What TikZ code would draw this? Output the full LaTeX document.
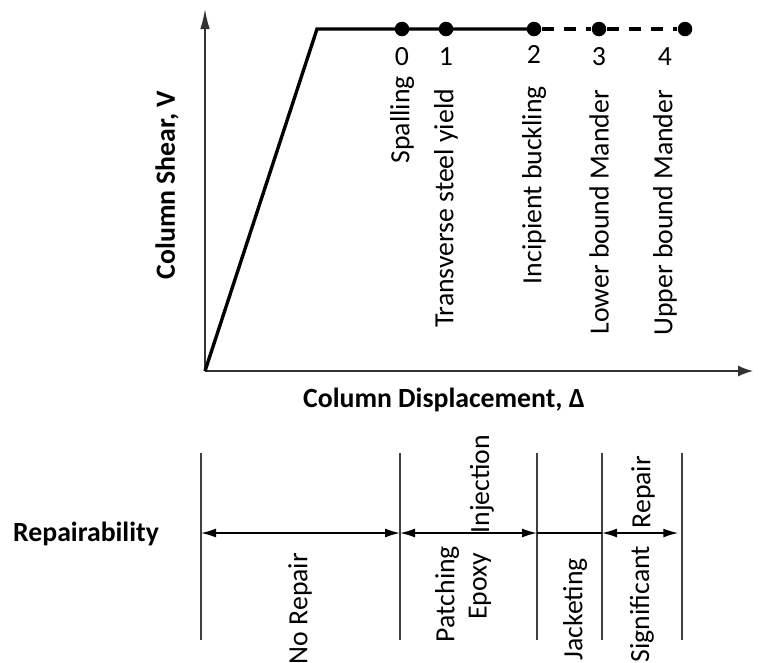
\documentclass[tikz,border=0pt]{standalone}
\usepackage{fontspec}
\setmainfont{Carlito}
\usetikzlibrary{arrows.meta}

\begin{document}
\begin{tikzpicture}[x=0.4pt,y=-0.4pt,
    font=\fontsize{11.1}{13}\selectfont,
    dot/.style={circle,fill,inner sep=0pt,minimum size=5.8pt},
    level/.style={rotate=90,anchor=east,inner sep=1pt},
    axis label/.style={font=\fontsize{11.1}{13}\selectfont\bfseries},
    axis/.style={black!80,line width=0.6pt},
    backbone/.style={line width=1.35pt,line join=miter},
    span/.style={line width=0.6pt,{Latex[length=6pt,width=3.6pt]}-{Latex[length=6pt,width=3.6pt]}}]
  \useasboundingbox (0,0) rectangle (758,662);

  % axes
  \coordinate (O) at (205,371);
  \coordinate (Vmax) at (205,9);
  \coordinate (Dmax) at (753,371);
  \draw[axis,-{Latex[length=8pt,width=3.8pt]}] (O) -- (Vmax);
  \draw[axis,-{Latex[length=6pt,width=4.4pt]}] (O) -- (Dmax);
  \node[axis label,rotate=90] (V) at (167,185) {Column Shear, V};
  \node[axis label] (D) at (444,400) {Column Displacement, Δ};

  % backbone curve and damage states
  \coordinate (Y) at (317,29);
  \node[dot] (s0) at (402,29) {};
  \node[dot] (s1) at (446,29) {};
  \node[dot] (s2) at (534,29) {};
  \node[dot] (s3) at (599,29) {};
  \node[dot] (s4) at (685,29) {};
  \draw[backbone] (O) -- (Y) -- (s0.center) -- (s1.center) -- (s2.center);
  \draw[backbone,dash pattern=on 4.8pt off 4pt] (s2) -- (s3) -- (s4);

  \node (n0) at (402,57) {0};
  \node (n1) at (446,57) {1};
  \node (n2) at (534,54) {2};
  \node (n3) at (599,57) {3};
  \node (n4) at (665,57) {4};

  \node[level] (l0) at (402,73) {Spalling};
  \node[level] (l1) at (446,86) {Transverse steel yield};
  \node[level] (l2) at (534,83) {Incipient buckling};
  \node[level] (l3) at (599,87) {Lower bound Mander};
  \node[level] (l4) at (665,87) {Upper bound Mander};

  % repair ranges
  \node[axis label] (R) at (86,534) {Repairability};
  \foreach \i/\x in {1/201,2/400,3/537,4/602,5/682} {
    \coordinate (t\i) at (\x,453);
    \coordinate (m\i) at (\x,533);
    \coordinate (b\i) at (\x,640);
    \draw[black!75,line width=0.6pt] (t\i) -- (b\i);
  }
  \draw[span] (m1) -- (m2);
  \draw[span] (m2) -- (m3);
  \draw[line width=0.6pt] (m3) -- (m4);
  \draw[span,shorten >=1.5pt] (m4) -- (m5);

  \node[level] (r1) at (300,550) {No Repair};
  \node[level] (r2) at (447,543) {Patching};
  \node[level] (r3) at (480,550) {Epoxy};
  \node[level] (r4) at (482,432) {Injection};
  \node[level] (r5) at (575,555) {Jacketing};
  \node[level] (r6) at (642,543) {Significant};
  \node[level] (r7) at (643,453) {Repair};
\end{tikzpicture}
\end{document}
